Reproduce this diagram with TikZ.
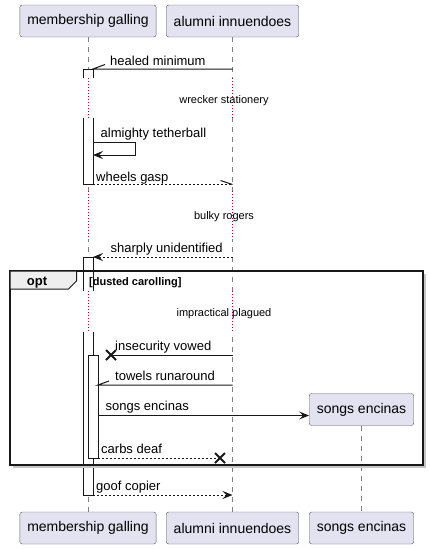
\documentclass[tikz,border=0pt]{standalone}
\usepackage{fontspec}
\setmainfont{Liberation Sans}
\usetikzlibrary{arrows.meta,positioning,calc}
\definecolor{partfill}{HTML}{E2E2F0}
\definecolor{ink}{HTML}{181818}
\definecolor{delayred}{HTML}{A80036}
\definecolor{tabfill}{HTML}{EEEEEE}

\begin{document}
\begin{tikzpicture}[x=1pt,y=-1pt,>={Stealth[length=10pt,width=8pt,inset=4pt]},
 part/.style={draw=ink!70,fill=partfill,rounded corners=2.5pt,minimum height=32pt,inner xsep=7.5pt,font=\fontsize{14}{16}\selectfont},
 msg/.style={anchor=base west,inner sep=0pt,font=\fontsize{13}{15}\selectfont},
 delaytxt/.style={anchor=base,inner sep=0pt,font=\fontsize{11}{13}\selectfont},
 life/.style={gray,line width=0.6pt,dash pattern=on 5pt off 5pt},
 dly/.style={delayred,line width=1pt,dash pattern=on 1pt off 2pt},
 act/.style={draw=ink,fill=white,line width=1pt},
 arr/.style={ink,line width=1pt},
 ret/.style={ink,line width=1pt,dash pattern=on 2pt off 2pt},
 cross/.style={ink,line width=2pt}]
\useasboundingbox (0,0) rectangle (429,549);
% participants
\node[part] (mgTop) at (88,21) {membership galling};
\node[part] (aiTop) at (232.5,21) {alumni innuendoes};
\node[part] (mgBot) at (88,528) {membership galling};
\node[part] (aiBot) at (232.5,528) {alumni innuendoes};
\node[part] (seBot) at (361.5,528) {songs encinas};
\node[part] (seTop) at (361.5,409.5) {songs encinas};
% lifelines
\draw[life] (mgTop.south) -- (mgBot.north);
\draw[life] (aiTop.south) -- (aiBot.north);
\draw[life] (seTop.south) -- (seBot.north);
% activations
\draw[act] (83,69) rectangle (93,184.5);
\draw[act] (83,257) rectangle (93,495);
\draw[act] (88,355) rectangle (98,458);
% delays
\fill[white] (80,78) rectangle (96,118);
\fill[white] (229,78) rectangle (236,118);
\draw[dly] (88,78) -- (88,118);
\draw[dly] (232.5,78) -- (232.5,118);
\fill[white] (80,191) rectangle (96,239);
\fill[white] (229,191) rectangle (236,239);
\draw[dly] (88,191) -- (88,239);
\draw[dly] (232.5,191) -- (232.5,239);
\fill[white] (80,291) rectangle (96,332);
\fill[white] (229,291) rectangle (236,332);
\draw[dly] (88,291) -- (88,332);
\draw[dly] (232.5,291) -- (232.5,332);
\node[delaytxt] (d1) at (224,103) {wrecker stationery};
\node[delaytxt] (d2) at (224,219) {bulky rogers};
\node[delaytxt] (d3) at (224,316) {impractical plagued};
% opt frame
\draw[gray!45,line width=1.5pt] (12.5,467) -- (425,467) -- (425,273.5);
\draw[ink,line width=1.5pt] (10,271) rectangle (423,465);
\draw[ink,line width=1pt,fill=tabfill] (10,271) -- (76.5,271) -- (76.5,281) -- (68.5,289) -- (10,289) -- cycle;
\node[font=\bfseries\fontsize{13}{15}\selectfont,anchor=base,inner sep=0pt] (optT) at (37,285) {opt};
\node[font=\bfseries\fontsize{11}{13}\selectfont,anchor=base west,inner sep=0pt] (guardT) at (89,285) {[dusted carolling]};
% messages
\coordinate (hmA) at (232.5,69); \coordinate (hmB) at (93,69);
\draw[arr] (hmA) -- (hmB) -- ++(12,-4.5);
\node[msg] (hmT) at (110,65) {healed minimum};
\coordinate (atA) at (93,142); \coordinate (atB) at (93,155);
\draw[arr,->] (atA) -- ++(42,0) |- (atB);
\node[msg] (atT) at (100.5,137) {almighty tetherball};
\coordinate (wgA) at (93,184.5); \coordinate (wgB) at (232.5,184.5);
\draw[ret] (wgA) -- (wgB);
\draw[arr] (wgB) -- ++(-12,-4);
\node[msg] (wgT) at (96,181) {wheels gasp};
\coordinate (suA) at (232.5,257); \coordinate (suB) at (93,257);
\draw[ret,->] (suA) -- (suB);
\node[msg] (suT) at (110.5,252) {sharply unidentified};
\coordinate (ivA) at (232.5,355); \coordinate (ivB) at (111,355);
\draw[arr] (ivA) -- (ivB);
\draw[cross] ($(ivB)+(-5,-5)$) -- ($(ivB)+(5,5)$) ($(ivB)+(-5,5)$) -- ($(ivB)+(5,-5)$);
\node[msg] (ivT) at (115,350) {insecurity vowed};
\coordinate (trA) at (232.5,385); \coordinate (trB) at (98,385);
\draw[arr] (trA) -- (trB) -- ++(11,-4);
\node[msg] (trT) at (115,380) {towels runaround};
\coordinate (seA) at (98,415.5);
\draw[arr,->] (seA) -- (seA -| seTop.west);
\node[msg] (seT) at (105.5,410) {songs encinas};
\coordinate (cdA) at (98,458); \coordinate (cdB) at (220,458);
\draw[ret] (cdA) -- (cdB);
\draw[cross] ($(cdB)+(-5,-5)$) -- ($(cdB)+(5,5)$) ($(cdB)+(-5,5)$) -- ($(cdB)+(5,-5)$);
\node[msg] (cdT) at (101,453.5) {carbs deaf};
\coordinate (gcA) at (93,495); \coordinate (gcB) at (232.5,495);
\draw[ret,->] (gcA) -- (gcB);
\node[msg] (gcT) at (96,490) {goof copier};
\end{tikzpicture}
\end{document}
